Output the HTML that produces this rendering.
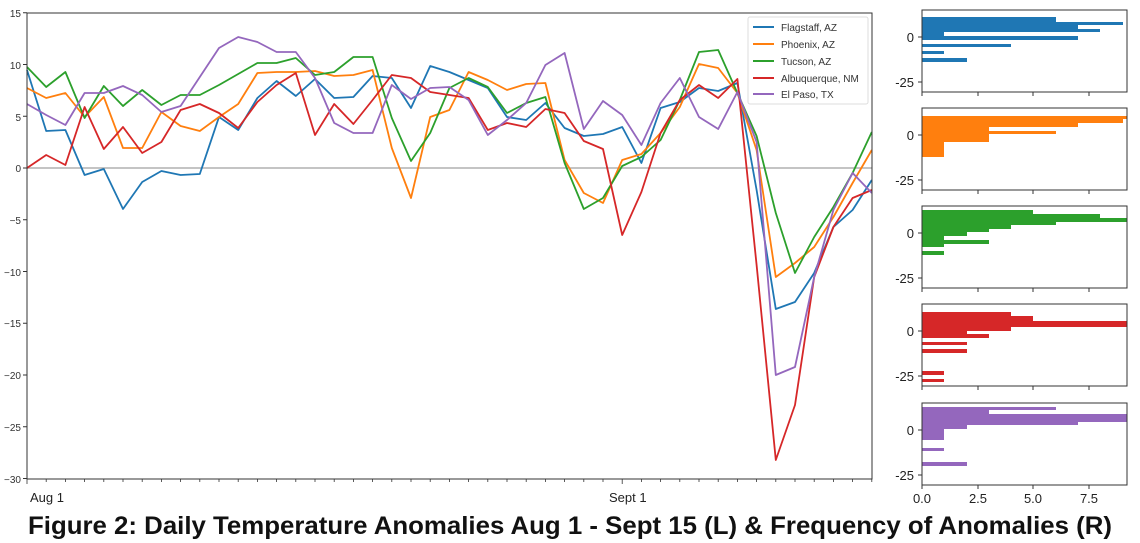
<!DOCTYPE html>
<html><head><meta charset="utf-8"><style>
html,body{margin:0;padding:0;background:#fff;}
svg{display:block;font-family:"Liberation Sans",sans-serif;}
</style></head><body>
<svg id="s" width="1140" height="543" viewBox="0 0 1140 543" xmlns="http://www.w3.org/2000/svg">
<rect width="1140" height="543" fill="#fff"/>
<!-- main axes -->
<line x1="27" y1="168" x2="872" y2="168" stroke="#a0a0a0" stroke-width="1.3"/>
<g id="lines" fill="none" stroke-width="1.8" stroke-linejoin="round"></g>
<rect x="27" y="13" width="845" height="466" fill="none" stroke="#333" stroke-width="1"/>
<g font-size="10" fill="#333" text-anchor="end">
<text x="21" y="17">15</text><text x="21" y="69">10</text><text x="21" y="121">5</text><text x="21" y="172">0</text>
<text x="21" y="224">−5</text><text x="21" y="276">−10</text><text x="21" y="327">−15</text><text x="21" y="379">−20</text>
<text x="21" y="431">−25</text><text x="21" y="483">−30</text>
</g>
<g stroke="#333" stroke-width="1" id="yt"></g>
<g stroke="#333" stroke-width="0.8" id="xt"></g>
<text x="30" y="502" font-size="13" fill="#222">Aug 1</text>
<text x="609" y="502" font-size="13" fill="#222">Sept 1</text>
<!-- legend -->
<rect x="748" y="17" width="120" height="87" fill="#fff" stroke="#ddd" stroke-width="1" rx="2"/>
<g stroke-width="2">
<line x1="753" y1="27" x2="774" y2="27" stroke="#1f77b4"/>
<line x1="753" y1="44" x2="774" y2="44" stroke="#ff7f0e"/>
<line x1="753" y1="61" x2="774" y2="61" stroke="#2ca02c"/>
<line x1="753" y1="78" x2="774" y2="78" stroke="#d62728"/>
<line x1="753" y1="94" x2="774" y2="94" stroke="#9467bd"/>
</g>
<g font-size="10" fill="#333">
<text x="781" y="31">Flagstaff, AZ</text>
<text x="781" y="48">Phoenix, AZ</text>
<text x="781" y="65">Tucson, AZ</text>
<text x="781" y="82">Albuquerque, NM</text>
<text x="781" y="98">El Paso, TX</text>
</g>
<!-- histograms -->
<g id="hist"></g>
<g font-size="13" fill="#222" text-anchor="middle">
<text x="922" y="503">0.0</text><text x="978" y="503">2.5</text><text x="1033" y="503">5.0</text><text x="1089" y="503">7.5</text>
</g>
<text x="28" y="534" font-size="25" font-weight="bold" fill="#111" textLength="1084" lengthAdjust="spacingAndGlyphs">Figure 2: Daily Temperature Anomalies Aug 1 - Sept 15 (L) &amp; Frequency of Anomalies (R)</text>
</svg>
<script>
var NS="http://www.w3.org/2000/svg";
function el(t,a,p){var e=document.createElementNS(NS,t);for(var k in a)e.setAttribute(k,a[k]);p.appendChild(e);return e;}
var S={
"#1f77b4":[70,131,130,175,169,209,182,171,175,174,117,130,98,81,96,79,98,97,76,78,108,66,72,80,88,117,120,103,128,136,134,127,163,108,102,88,91,83,190,309,302,273,227,210,180],
"#ff7f0e":[88,98,93,117,97,148,148,112,126,131,117,104,73,72,72,71,76,75,70,148,198,117,110,72,80,90,84,83,160,193,203,160,154,133,107,64,68,93,150,277,263,247,217,183,150],
"#2ca02c":[67,87,72,118,86,106,90,105,95,95,85,74,63,63,58,75,72,57,57,118,161,133,88,78,87,113,103,97,163,209,198,166,157,140,100,52,50,93,136,213,273,237,207,173,132],
"#d62728":[168,155,165,107,149,127,153,142,110,104,113,128,102,85,73,135,104,124,100,75,78,92,95,98,130,123,127,109,113,141,149,235,192,133,100,85,98,79,265,460,405,277,227,198,190],
"#9467bd":[104,115,125,93,93,86,95,112,106,77,48,37,42,52,52,78,123,133,133,85,99,88,87,100,135,120,103,65,53,129,101,115,145,103,78,117,129,92,142,375,367,277,210,173,193]};
var g=document.getElementById("lines");
["#1f77b4","#ff7f0e","#2ca02c","#d62728","#9467bd"].forEach(function(c){
 var p=S[c].map(function(y,i){return (27+19.2*i).toFixed(1)+","+y;}).join(" ");
 el("polyline",{points:p,stroke:c},g);});
var yt=document.getElementById("yt");
for(var v=15;v>=-30;v-=5){var y=168-10.35*v;el("line",{x1:23,y1:y,x2:27,y2:y},yt);}
var xt=document.getElementById("xt");
for(var i=0;i<=44;i++){var x=27+19.2*i;var big=(i==0||i==31);el("line",{x1:x,y1:479,x2:x,y2:big?484:482},xt);}
var H=document.getElementById("hist");
var tops=[10,108,206,304,403];
var cols=["#1f77b4","#ff7f0e","#2ca02c","#d62728","#9467bd"];
var bars=[
[[17,22,1056],[22,25,1123],[25,29,1078],[29,32,1100],[32,36,944],[36,40,1078],[44,47,1011],[51,54,944],[58,62,967]],
[[116,119,1127],[119,123,1123],[123,127,1078],[127,131,989],[131,134,1056],[134,142,989],[142,157,944]],
[[210,214,1033],[214,218,1100],[218,222,1127],[222,225,1056],[225,229,1011],[229,232,989],[232,236,967],[236,240,944],[240,244,989],[244,247,944],[251,255,944]],
[[312,316,1011],[316,321,1033],[321,327,1127],[327,331,1011],[331,334,967],[334,338,989],[342,345,967],[349,353,967],[371,375,944],[379,382,944]],
[[407,410,1056],[410,414,989],[414,422,1127],[422,425,1078],[425,429,967],[429,440,944],[448,451,944],[462,466,967]]];
for(var k=0;k<5;k++){
 var t=tops[k];
 bars[k].forEach(function(b){el("rect",{x:922,y:b[0],width:b[2]-922,height:b[1]-b[0],fill:cols[k]},H);});
 el("rect",{x:922,y:t,width:205,height:82,fill:"none",stroke:"#333","stroke-width":1},H);
 var y0=t+27,y25=t+72;
 el("line",{x1:918,y1:y0,x2:922,y2:y0,stroke:"#333"},H);
 el("line",{x1:918,y1:y25,x2:922,y2:y25,stroke:"#333"},H);
 var a=el("text",{x:914,y:y0+5,"font-size":13,fill:"#222","text-anchor":"end"},H);a.textContent="0";
 var b2=el("text",{x:914,y:y25+5,"font-size":13,fill:"#222","text-anchor":"end"},H);b2.textContent="-25";
 [922,978,1033,1089].forEach(function(x){el("line",{x1:x,y1:t+82,x2:x,y2:t+86,stroke:"#333"},H);});
}
</script>
</body></html>
